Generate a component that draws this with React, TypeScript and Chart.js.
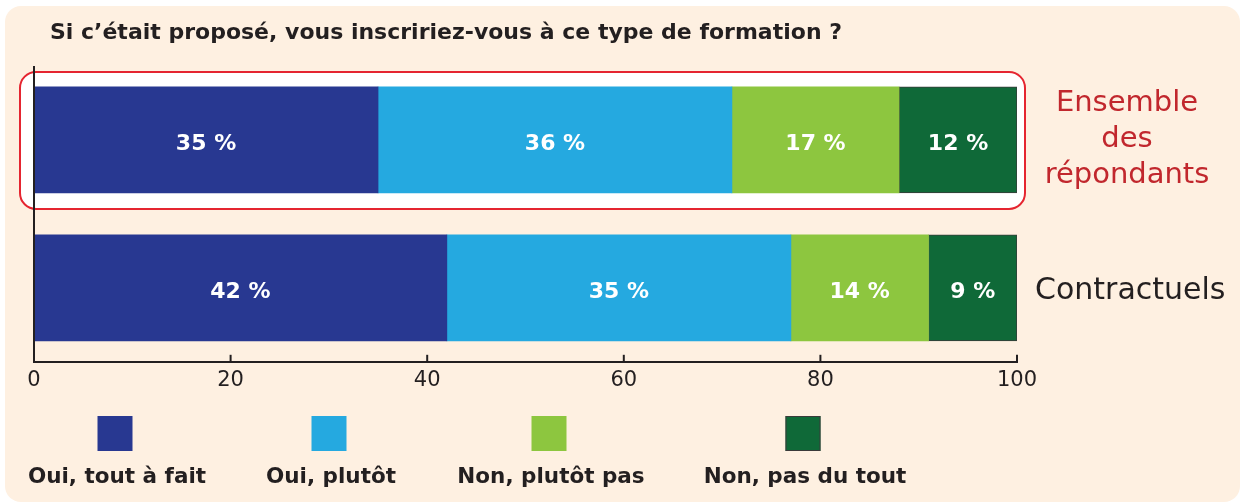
import { useEffect, useRef } from "react";
import { Chart, registerables } from "chart.js";

Chart.register(...registerables);

const title = "Si c’était proposé, vous inscririez-vous à ce type de formation ?";
const categories = ["Ensemble des répondants", "Contractuels"];
const categoryLines = [["Ensemble", "des", "répondants"], ["Contractuels"]];
const seriesLabels = ["Oui, tout à fait", "Oui, plutôt", "Non, plutôt pas", "Non, pas du tout"];
const ouiToutAFait = [35, 42];
const ouiPlutot = [36, 35];
const nonPlutotPas = [17, 14];
const nonPasDuTout = [12, 9];
const xTickValues = [0, 20, 40, 60, 80, 100];

const colors = ["#283891", "#25A9E0", "#8DC63F", "#0F6938"];
const FONT = "'DejaVu Sans', sans-serif";
const INK = "#231F20";

function roundRect(ctx: CanvasRenderingContext2D, x: number, y: number, w: number, h: number, r: number) {
  ctx.beginPath();
  ctx.moveTo(x + r, y);
  ctx.lineTo(x + w - r, y);
  ctx.arcTo(x + w, y, x + w, y + r, r);
  ctx.lineTo(x + w, y + h - r);
  ctx.arcTo(x + w, y + h, x + w - r, y + h, r);
  ctx.lineTo(x + r, y + h);
  ctx.arcTo(x, y + h, x, y + h - r, r);
  ctx.lineTo(x, y + r);
  ctx.arcTo(x, y, x + r, y, r);
  ctx.closePath();
}

const decorPlugin = {
  id: "decor",
  beforeDraw(chart: any) {
    const ctx = chart.ctx as CanvasRenderingContext2D;
    ctx.save();
    ctx.fillStyle = "#ffffff";
    ctx.fillRect(0, 0, chart.width, chart.height);
    roundRect(ctx, 5, 6, chart.width - 9, chart.height - 8, 16);
    ctx.fillStyle = "#FEF0E1";
    ctx.fill();
    ctx.fillStyle = INK;
    ctx.font = `bold 22px ${FONT}`;
    ctx.textAlign = "left";
    ctx.textBaseline = "middle";
    ctx.fillText(title, 50, 33);
    ctx.restore();
  },
  beforeDatasetsDraw(chart: any) {
    const ctx = chart.ctx as CanvasRenderingContext2D;
    const { chartArea, scales } = chart;
    const yc = scales.y.getPixelForValue(0);
    ctx.save();
    roundRect(ctx, chartArea.left - 14, yc - 68, chartArea.right - chartArea.left + 22, 137, 16);
    ctx.fillStyle = "#ffffff";
    ctx.fill();
    ctx.lineWidth = 2;
    ctx.strokeStyle = "#E52530";
    ctx.stroke();
    ctx.restore();
  },
  afterDatasetsDraw(chart: any) {
    const ctx = chart.ctx as CanvasRenderingContext2D;
    const { chartArea, scales } = chart;
    ctx.save();
    // left axis line
    ctx.strokeStyle = INK;
    ctx.lineWidth = 2;
    ctx.beginPath();
    ctx.moveTo(chartArea.left, chartArea.top);
    ctx.lineTo(chartArea.left, chartArea.bottom);
    ctx.stroke();
    // inward tick marks
    xTickValues.forEach((v) => {
      const x = scales.x.getPixelForValue(v);
      ctx.beginPath();
      ctx.moveTo(x, chartArea.bottom - 7);
      ctx.lineTo(x, chartArea.bottom);
      ctx.stroke();
    });
    // data labels
    ctx.fillStyle = "#ffffff";
    ctx.font = `bold 22px ${FONT}`;
    ctx.textAlign = "center";
    ctx.textBaseline = "middle";
    chart.data.datasets.forEach((ds: any, di: number) => {
      const meta = chart.getDatasetMeta(di);
      meta.data.forEach((el: any, i: number) => {
        const p = el.getProps(["x", "y", "base"], true);
        ctx.fillText(`${ds.data[i]} %`, (p.x + p.base) / 2, p.y + 4);
      });
    });
    // category labels on the right
    categoryLines.forEach((lines, i) => {
      const y = scales.y.getPixelForValue(i);
      if (i === 0) {
        ctx.fillStyle = "#C1272D";
        ctx.font = `29px ${FONT}`;
        ctx.textAlign = "center";
        lines.forEach((t, k) => ctx.fillText(t, 1127, y + (k - (lines.length - 1) / 2) * 36));
      } else {
        ctx.fillStyle = INK;
        ctx.font = `30px ${FONT}`;
        ctx.textAlign = "left";
        lines.forEach((t) => ctx.fillText(t, 1035, y + 3));
      }
    });
    // legend
    const centers = [115, 329, 549, 803];
    chart.data.datasets.forEach((ds: any, di: number) => {
      const cx = centers[di];
      ctx.fillStyle = ds.backgroundColor;
      ctx.fillRect(cx - 17.5, 416, 35, 35);
      if (di === 3) {
        ctx.strokeStyle = "#3a3a3a";
        ctx.lineWidth = 1;
        ctx.strokeRect(cx - 17, 416.5, 34, 34);
      }
      ctx.fillStyle = INK;
      ctx.font = `bold 21.5px ${FONT}`;
      ctx.textAlign = "center";
      ctx.fillText(ds.label, cx + 2, 477);
    });
    ctx.restore();
  },
};

export default function App() {
  const ref = useRef<HTMLCanvasElement>(null);
  useEffect(() => {
    if (!ref.current) return;
    Chart.defaults.font.family = FONT;
    const data = [ouiToutAFait, ouiPlutot, nonPlutotPas, nonPasDuTout];
    const chart = new Chart(ref.current, {
      type: "bar",
      data: {
        labels: categories,
        datasets: seriesLabels.map((label, i) => ({
          label,
          data: data[i],
          backgroundColor: colors[i],
          borderColor: i === 3 ? "#3a3a3a" : colors[i],
          borderWidth: i === 3 ? 1 : 0,
          borderSkipped: false,
          barThickness: 106,
        })),
      },
      options: {
        indexAxis: "y",
        responsive: false,
        animation: false,
        events: [],
        layout: { padding: { top: 66, left: 34, right: 227, bottom: 105 } },
        plugins: { legend: { display: false }, tooltip: { enabled: false }, title: { display: false } },
        scales: {
          x: {
            stacked: true,
            min: 0,
            max: 100,
            grid: { display: false, drawTicks: false },
            border: { display: true, color: INK, width: 2 },
            afterBuildTicks: (scale: any) => {
              scale.ticks = xTickValues.map((v) => ({ value: v }));
            },
            ticks: { color: INK, font: { size: 21, family: FONT }, padding: 6, maxRotation: 0, autoSkip: false },
          },
          y: { stacked: true, display: false },
        },
      },
      plugins: [decorPlugin],
    });
    return () => chart.destroy();
  }, []);
  return (
    <div style={{ position: "absolute", left: 0, top: 0, width: 1244, height: 504 }}>
      <canvas ref={ref} width={1244} height={504} />
    </div>
  );
}
